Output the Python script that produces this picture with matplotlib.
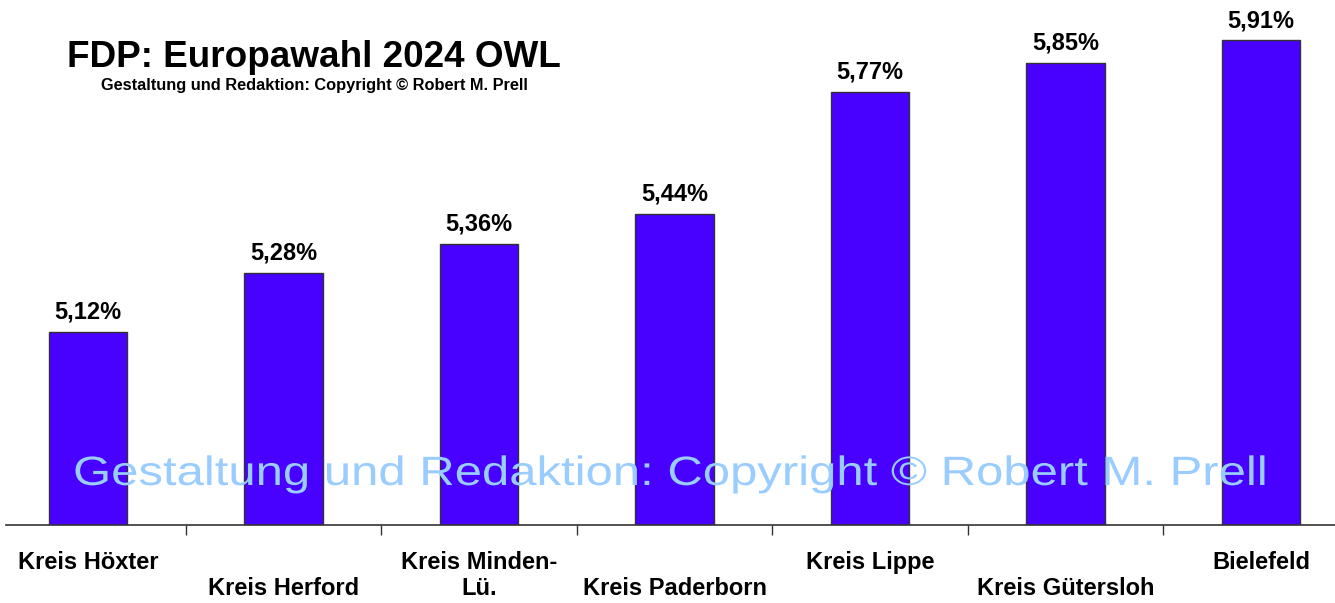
import matplotlib as mpl
mpl.use("Agg")
import matplotlib.pyplot as plt
from matplotlib.patheffects import AbstractPathEffect
from matplotlib.transforms import Affine2D
import numpy as np

plt.rcParams['font.family'] = ['Liberation Sans', 'DejaVu Sans']

# data
regions = ["Kreis Höxter", "Kreis Herford", "Kreis Minden-\nLü.", "Kreis Paderborn",
           "Kreis Lippe", "Kreis Gütersloh", "Bielefeld"]
values = [5.12, 5.28, 5.36, 5.44, 5.77, 5.85, 5.91]
title = "FDP: Europawahl 2024 OWL"
credit = "Gestaltung und Redaktion: Copyright © Robert M. Prell"

bar_color = "#4800FF"
edge = "#333333"


class Stretch(AbstractPathEffect):
    # widen the glyphs horizontally (the watermark font is stretched)
    def __init__(self, sx):
        super().__init__()
        self.sx = sx

    def draw_path(self, renderer, gc, tpath, affine, rgbFace=None):
        renderer.draw_path(gc, tpath, Affine2D().scale(self.sx, 1) + affine, rgbFace)


W, H = 1335, 603
fig = plt.figure(figsize=(W / 100, H / 100), dpi=100)
ax = fig.add_axes([6 / W, 78.5 / H, 1329 / W, 517.4 / H])

x = np.arange(len(values))
ax.bar(x, values, width=0.4, color=bar_color, edgecolor=edge, linewidth=1)
ax.set_ylim(4.6, 6.0)
ax.set_xlim(-0.419, 6.378)

for i, v in enumerate(values):
    ax.annotate(f"{v:.2f}".replace(".", ",") + "%", (i, v), xytext=(0, 9.6),
                textcoords="offset points", ha="center", va="baseline",
                fontsize=17, fontweight="bold")

for s in ["top", "right", "left"]:
    ax.spines[s].set_visible(False)
ax.spines["bottom"].set_color(edge)
ax.spines["bottom"].set_linewidth(1.2)
ax.set_yticks([])

labels = [lab if i % 2 == 0 else "\n" + lab for i, lab in enumerate(regions)]
ax.set_xticks(x, labels, fontsize=17, fontweight="bold")
ax.set_xticks(x[:-1] + 0.5, minor=True)
ax.tick_params(axis="x", which="major", length=0, pad=19)
ax.tick_params(axis="x", which="minor", length=7, width=1, color=edge, direction="out")

fig.text(314 / W, (H - 66.7) / H, title, ha="center", va="baseline",
         fontsize=26.6, fontweight="bold")
fig.text(314 / W, (H - 90) / H, credit, ha="center", va="baseline",
         fontsize=11.75, fontweight="bold")

# watermark
fig.text(73 / W, (H - 485) / H, credit, ha="left", va="baseline", fontsize=29.5,
         color="#99CCFF", path_effects=[Stretch(1.197)], zorder=5)

fig.savefig("out.png", dpi=100)
